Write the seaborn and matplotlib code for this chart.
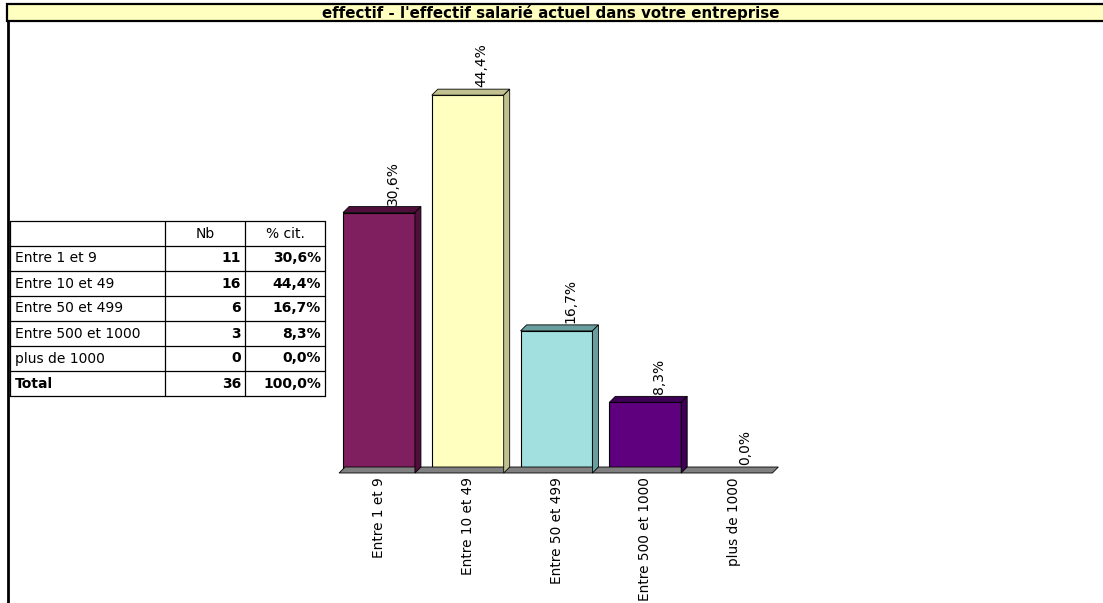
import matplotlib
matplotlib.use("Agg")
import matplotlib.pyplot as plt
from matplotlib.patches import Polygon, Rectangle
from matplotlib.lines import Line2D
import pandas as pd
import seaborn as sns

# Survey data: current headcount of the company
categories = ["Entre 1 et 9", "Entre 10 et 49", "Entre 50 et 499",
              "Entre 500 et 1000", "plus de 1000"]
counts = [11, 16, 6, 3, 0]
percents = [30.6, 44.4, 16.7, 8.3, 0.0]
total_count = 36
total_percent = 100.0
title = "effectif - l'effectif salarié actuel dans votre entreprise"

front_colors = ["#801F5F", "#FFFFC0", "#A2E0E0", "#5F007F", "#8C8C8C"]
side_colors = ["#4F0F3A", "#C0C090", "#6A9E9E", "#3D0055", "#6E6E6E"]

sns.set_theme(style="white")
plt.rcParams["font.family"] = ["DejaVu Sans"]
for key in ("text.color", "xtick.color", "ytick.color", "axes.labelcolor"):
    plt.rcParams[key] = "black"

W, H = 1103, 603
fig = plt.figure(figsize=(W / 100, H / 100), dpi=100)
fig.patch.set_facecolor("white")


def fx(x):
    return x / W


def fy(y):
    return 1 - y / H


def pct(v):
    return f"{v:.1f}".replace(".", ",") + "%"


# Title band and left frame line
band_top, band_bottom = 4, 21
fig.patches.append(Rectangle((fx(7), fy(band_bottom)), fx(1110) - fx(7),
                             fy(band_top) - fy(band_bottom),
                             transform=fig.transFigure, facecolor="#FFFFC0",
                             edgecolor="black", linewidth=1.6, zorder=1))
fig.text(fx(551), fy((band_top + band_bottom) / 2 + 0.5), title, ha="center",
         va="center", fontsize=10.8, fontweight="bold")
fig.lines.append(Line2D([fx(8), fx(8)], [fy(band_bottom), fy(603)],
                        transform=fig.transFigure, color="black", linewidth=2))

# Bar chart axes
step = 88.75
xmin, xmax = -0.45, 4.5
base_px, top_px = 473, 473 - 50 * 8.51
left_px = 379 + xmin * step
width_px = (xmax - xmin) * step
ax = fig.add_axes([fx(left_px), fy(base_px), width_px / W, (base_px - top_px) / H])
df = pd.DataFrame({"cat": categories, "pct": percents})
sns.barplot(data=df, x="cat", y="pct", hue="cat", palette=front_colors,
            order=categories, width=0.81, edgecolor="black", linewidth=0.8,
            saturation=1, legend=False, ax=ax, zorder=3)
ax.set_xlim(xmin, xmax)
ax.set_ylim(0, 50)
ax.set_xlabel("")
ax.set_ylabel("")
ax.set_yticks([])
for s in ax.spines.values():
    s.set_visible(False)
ax.patch.set_alpha(0)
ax.tick_params(axis="x", length=0, pad=3)
ax.set_xticks(range(len(categories)))
ax.set_xticklabels(categories, rotation=90, fontsize=9.8, va="top", ha="center")

fig.canvas.draw()
to_fig = fig.transFigure.inverted()
dx, dy = 6, 6


def poly(points_px, fc, z):
    pts = to_fig.transform(points_px)
    fig.patches.append(Polygon(pts, closed=True, transform=fig.transFigure,
                               facecolor=fc, edgecolor="black", linewidth=0.6,
                               zorder=z))


# Floor slab behind the bars
(fl, fb), (fr, _) = ax.transData.transform([(xmin, 0), (xmax, 0)])
poly([(fl, fb), (fr - dx, fb), (fr, fb + dy), (fl + dx, fb + dy)], "#808080", 0)

# Depth faces for each bar, plus value labels
bars = [p for p in ax.patches if p.get_width() > 0]
for i, bar in enumerate(bars):
    x0 = bar.get_x()
    x1 = x0 + bar.get_width()
    h = bar.get_height()
    (px0, py0), (px1, py1) = ax.transData.transform([(x0, 0), (x1, h)])
    if h > 0:
        poly([(px0, py1), (px1, py1), (px1 + dx, py1 + dy), (px0 + dx, py1 + dy)],
             side_colors[i], 2)
        poly([(px1, py0), (px1 + dx, py0 + dy), (px1 + dx, py1 + dy), (px1, py1)],
             side_colors[i], 2)
    ax.annotate(pct(percents[i]), xy=(x0 + bar.get_width() / 2, h),
                xytext=(14 if h > 0 else 11, 8), textcoords="offset pixels",
                rotation=90, ha="center", va="bottom", fontsize=10)

# Frequency table
tab_top, row_h = 221, 25
col_x = [10, 165, 245, 325]
rows = [["", "Nb", "% cit."]]
for c, n, p in zip(categories, counts, percents):
    rows.append([c, str(n), pct(p)])
rows.append(["Total", str(total_count), pct(total_percent)])
n_rows = len(rows)
tab_bottom = tab_top + n_rows * row_h
for k in range(n_rows + 1):
    y = tab_top + k * row_h
    fig.lines.append(Line2D([fx(col_x[0]), fx(col_x[-1])], [fy(y), fy(y)],
                            transform=fig.transFigure, color="black", linewidth=0.9))
for x in col_x:
    fig.lines.append(Line2D([fx(x), fx(x)], [fy(tab_top), fy(tab_bottom)],
                            transform=fig.transFigure, color="black", linewidth=0.9))
for r, row in enumerate(rows):
    yc = tab_top + r * row_h + row_h / 2
    for c, txt in enumerate(row):
        if r == 0:
            fig.text(fx((col_x[c] + col_x[c + 1]) / 2), fy(yc), txt, ha="center",
                     va="center", fontsize=10)
        elif c == 0:
            fig.text(fx(col_x[0] + 5), fy(yc), txt, ha="left", va="center",
                     fontsize=10, fontweight="bold" if r == n_rows - 1 else "normal")
        else:
            fig.text(fx(col_x[c + 1] - 4), fy(yc), txt, ha="right", va="center",
                     fontsize=10, fontweight="bold")

fig.savefig("out.png", dpi=100, facecolor="white")
